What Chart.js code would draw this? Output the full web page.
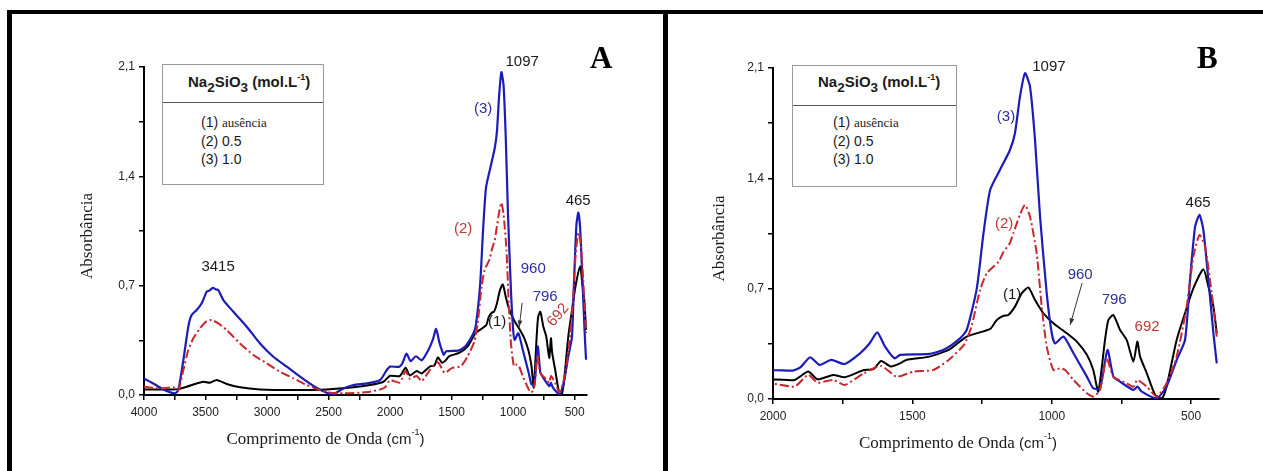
<!DOCTYPE html>
<html>
<head>
<meta charset="utf-8">
<script src="https://cdn.jsdelivr.net/npm/chart.js@4.4.1/dist/chart.umd.min.js"></script>
<style>
  body { margin: 0; background: #fff; width: 1263px; height: 471px; overflow: hidden; position: relative; font-family: "Liberation Sans", Arial, sans-serif; }
  .bar { position: absolute; background: #000; }
  .panel { position: absolute; top: 14px; height: 457px; }
  .letter { position: absolute; top: 42px; font: bold 31px/31px "Liberation Serif", serif; color: #000; }
  .key { position: absolute; border: 1px solid #9a9a9a; background: #fff; color: #1a1a1a; }
  .key .head { position: absolute; left: 0; top: 0; right: 0; border-bottom: 1px solid #555; }
  .key .ttl { position: absolute; font-weight: bold; font-size: 15px; line-height: 16px; white-space: nowrap; }
  .key .items { position: absolute; font-size: 14px; line-height: 18px; white-space: nowrap; }
  .key .serif { font-family: "Liberation Serif", serif; font-size: 13px; }
  sub { font-size: 0.9em; vertical-align: -0.35em; line-height: 0; }
  sup { font-size: 0.6em; vertical-align: 0.75em; line-height: 0; }
</style>
</head>
<body>
<div class="bar" style="left:7px;top:10px;width:1256px;height:4px"></div>
<div class="bar" style="left:7px;top:10px;width:5px;height:461px"></div>
<div class="bar" style="left:663px;top:10px;width:5px;height:461px"></div>

<div class="panel" style="left:12px;width:651px"><canvas id="chart-a"></canvas></div>
<div class="panel" style="left:668px;width:595px"><canvas id="chart-b"></canvas></div>

<div class="letter" style="left:590px">A</div>
<div class="letter" style="left:1197px">B</div>

<div class="key" style="left:162px;top:64px;width:160px;height:119px">
  <div class="head" style="height:37px"><span class="ttl" style="left:25px;top:9px">Na<sub>2</sub>SiO<sub>3</sub> (mol.L<sup>-1</sup>)</span></div>
  <div class="items" style="left:38px;top:48px">
    <div>(1) <span class="serif">ausência</span></div>
    <div>(2) 0.5</div>
    <div>(3) 1.0</div>
  </div>
</div>
<div class="key" style="left:792px;top:65px;width:163px;height:120px">
  <div class="head" style="height:39px"><span class="ttl" style="left:25px;top:8px">Na<sub>2</sub>SiO<sub>3</sub> (mol.L<sup>-1</sup>)</span></div>
  <div class="items" style="left:40px;top:47px">
    <div>(1) <span class="serif">ausência</span></div>
    <div>(2) 0.5</div>
    <div>(3) 1.0</div>
  </div>
</div>

<script>
// (1) ausencia
const waveBlack = [4000, 3870, 3735, 3653, 3572, 3518, 3464, 3409, 3328, 3220, 3057, 2786, 2515, 2299, 2163, 2054, 2000, 1922, 1874, 1840,
    1784, 1743, 1674, 1640, 1612, 1577, 1544, 1522, 1439, 1370, 1305, 1221, 1198, 1174, 1156, 1132, 1108, 1084, 1060, 1030,
    994, 946, 910, 874, 851, 833, 809, 797, 779, 755, 731, 707, 693, 683, 659, 629, 605, 588, 552, 522, 492, 456, 438, 420, 408];
const absBlack = [0.036, 0.036, 0.036, 0.053, 0.074, 0.085, 0.079, 0.096, 0.07, 0.049, 0.036, 0.032, 0.036, 0.049, 0.064, 0.085, 0.123, 0.121, 0.174, 0.125,
    0.153, 0.138, 0.184, 0.189, 0.241, 0.206, 0.226, 0.248, 0.269, 0.311, 0.396, 0.445, 0.5, 0.527, 0.533, 0.586, 0.67, 0.708, 0.628, 0.544,
    0.48, 0.417, 0.364, 0.28, 0.184, 0.047, 0.374, 0.5, 0.533, 0.438, 0.374, 0.237, 0.364, 0.269, 0.163, 0.025, 0.004, 0.08, 0.374, 0.544, 0.702, 0.823, 0.713, 0.586, 0.417];

// (2) 0.5
const waveRed = [4000, 3870, 3762, 3721, 3680, 3640, 3599, 3545, 3491, 3450, 3396, 3328, 3220, 3111, 3003, 2895, 2786, 2678, 2569, 2488,
    2380, 2244, 2163, 2081, 2040, 2000, 1922, 1874, 1840, 1784, 1743, 1674, 1612, 1557, 1495, 1425, 1370, 1315, 1288, 1257,
    1232, 1191, 1174, 1150, 1138, 1114, 1096, 1078, 1054, 1036, 1018, 994, 970, 952, 922, 874, 851, 827, 803, 779,
    731, 707, 693, 659, 623, 588, 552, 516, 492, 470, 450, 426, 408];
const absRed = [0.053, 0.042, 0.049, 0.032, 0.16, 0.288, 0.363, 0.427, 0.473, 0.48, 0.459, 0.416, 0.33, 0.256, 0.203, 0.149, 0.107, 0.064, 0.032, 0.015,
    0.011, 0.015, 0.021, 0.036, 0.05, 0.095, 0.079, 0.153, 0.104, 0.121, 0.089, 0.163, 0.21, 0.142, 0.174, 0.184, 0.248, 0.343, 0.46, 0.692,
    0.8, 0.87, 0.93, 0.99, 1.05, 1.17, 1.231, 1.157, 0.924, 0.586, 0.332, 0.184, 0.195, 0.184, 0.121, 0.036, 0.015, 0.057, 0.258, 0.142,
    0.1, 0.078, 0.121, 0.078, 0.015, 0.1, 0.269, 0.586, 0.903, 1.04, 0.967, 0.67, 0.396];

// (3) 1.0
const waveBlue = [4000, 3924, 3843, 3748, 3721, 3680, 3640, 3613, 3572, 3531, 3491, 3470, 3440, 3415, 3396, 3355, 3274, 3165, 3057, 2949,
    2840, 2732, 2623, 2515, 2461, 2380, 2299, 2190, 2081, 2027, 2000, 1929, 1902, 1867, 1833, 1791, 1743, 1688, 1653, 1626,
    1598, 1564, 1544, 1439, 1384, 1329, 1305, 1269, 1245, 1221, 1186, 1150, 1132, 1114, 1096, 1078, 1060, 1042, 1018, 1000,
    988, 958, 922, 874, 851, 827, 800, 779, 755, 707, 693, 677, 623, 588, 552, 522, 504, 486, 470, 456, 438, 420, 408];
const absBlue = [0.106, 0.074, 0.036, 0.011, 0.032, 0.224, 0.437, 0.512, 0.544, 0.587, 0.661, 0.668, 0.686, 0.676, 0.672, 0.608, 0.533, 0.437, 0.33, 0.245,
    0.181, 0.117, 0.058, 0.015, 0.006, 0.042, 0.064, 0.074, 0.096, 0.16, 0.182, 0.18, 0.2, 0.265, 0.216, 0.248, 0.222, 0.29, 0.354, 0.423,
    0.332, 0.258, 0.28, 0.286, 0.316, 0.385, 0.438, 0.7, 1.05, 1.326, 1.453, 1.58, 1.686, 1.918, 2.067, 1.982, 1.643, 1.157, 0.67, 0.417,
    0.353, 0.396, 0.29, 0.142, 0.068, 0.068, 0.311, 0.142, 0.11, 0.057, 0.078, 0.047, 0.004, 0.08, 0.247, 0.374, 0.755, 1.09, 1.168, 1.072, 0.755, 0.417, 0.226];

const ticksA = [4000, 3750, 3500, 3250, 3000, 2750, 2500, 2250, 2000, 1750, 1500, 1250, 1000, 750, 500];
const ticksB = [2000, 1750, 1500, 1250, 1000, 750, 500];
const ticksY = [0, 0.35, 0.7, 1.05, 1.4, 1.75, 2.1];

const BLACK = '#000000', RED = '#c8282c', BLUE = '#1c1cb8';

// peak labels, placed in data units (wavenumber, absorbance)
const notesA = [
    { text: '1097', w: 927, a: 2.13, color: '#1a1a1a' },
    { text: '(3)', w: 1244, a: 1.83, color: '#2e2ea0' },
    { text: '(2)', w: 1407, a: 1.063, color: '#c03a3a' },
    { text: '465', w: 472, a: 1.242, color: '#1a1a1a' },
    { text: '3415', w: 3398, a: 0.82, color: '#1a1a1a' },
    { text: '960', w: 837, a: 0.807, color: '#2e2ea0' },
    { text: '796', w: 740, a: 0.627, color: '#2e2ea0' },
    { text: '692', w: 634, a: 0.512, color: '#c03a3a', rot: -50 },
    { text: '(1)', w: 1130, a: 0.467, color: '#1a1a1a' }
];
const notesB = [
    { text: '1097', w: 1010, a: 2.107, color: '#1a1a1a' },
    { text: '(3)', w: 1164, a: 1.789, color: '#2e2ea0' },
    { text: '(2)', w: 1171, a: 1.11, color: '#c03a3a' },
    { text: '(1)', w: 1142, a: 0.66, color: '#1a1a1a' },
    { text: '960', w: 898, a: 0.787, color: '#2e2ea0' },
    { text: '796', w: 776, a: 0.628, color: '#2e2ea0' },
    { text: '692', w: 658, a: 0.457, color: '#c03a3a' },
    { text: '465', w: 475, a: 1.244, color: '#1a1a1a' }
];

function points(waves, values) {
    return waves.map((w, i) => ({ x: w, y: values[i] }));
}

const spectrumNotes = {
    id: 'notes',
    afterDatasetsDraw(chart, args, opts) {
        const { ctx, chartArea: area, scales: { x, y } } = chart;
        ctx.save();
        ctx.textAlign = 'center';
        ctx.textBaseline = 'middle';
        opts.labels.forEach(n => {
            ctx.save();
            ctx.translate(x.getPixelForValue(n.w), y.getPixelForValue(n.a));
            if (n.rot) ctx.rotate(n.rot * Math.PI / 180);
            ctx.fillStyle = n.color;
            ctx.font = '15px "Liberation Sans", Arial';
            ctx.fillText(n.text, 0, 0);
            ctx.restore();
        });

        // arrow towards the 960 shoulder
        const a = opts.arrow;
        const x1 = x.getPixelForValue(a[0]), y1 = y.getPixelForValue(a[1]);
        const x2 = x.getPixelForValue(a[2]), y2 = y.getPixelForValue(a[3]);
        const ang = Math.atan2(y2 - y1, x2 - x1);
        ctx.strokeStyle = '#333';
        ctx.fillStyle = '#333';
        ctx.lineWidth = 1;
        ctx.beginPath();
        ctx.moveTo(x1, y1);
        ctx.lineTo(x2, y2);
        ctx.stroke();
        ctx.beginPath();
        ctx.moveTo(x2, y2);
        ctx.lineTo(x2 - 7 * Math.cos(ang - 0.35), y2 - 7 * Math.sin(ang - 0.35));
        ctx.lineTo(x2 - 7 * Math.cos(ang + 0.35), y2 - 7 * Math.sin(ang + 0.35));
        ctx.closePath();
        ctx.fill();

        // axis titles
        ctx.fillStyle = '#1a1a1a';
        ctx.save();
        ctx.translate(area.left - opts.yGap, (area.top + area.bottom) / 2 + 5);
        ctx.rotate(-Math.PI / 2);
        ctx.font = '17px "Liberation Serif", serif';
        ctx.fillText('Absorbância', 0, 0);
        ctx.restore();

        const parts = [
            { t: 'Comprimento de Onda ', f: '17px "Liberation Serif", serif', dy: 0 },
            { t: '(cm', f: '15px "Liberation Sans", Arial', dy: 0 },
            { t: '-1', f: '9px "Liberation Sans", Arial', dy: -7 },
            { t: ')', f: '15px "Liberation Sans", Arial', dy: 0 }
        ];
        let total = 0;
        parts.forEach(p => { ctx.font = p.f; p.w = ctx.measureText(p.t).width; total += p.w; });
        let cx = (area.left + area.right) / 2 + opts.xShift - total / 2;
        const ty = area.bottom + 45;
        ctx.textAlign = 'left';
        parts.forEach(p => { ctx.font = p.f; ctx.fillText(p.t, cx, ty + p.dy); cx += p.w; });
        ctx.restore();
    }
};

function makeChart(canvas, xmin, xTicks, notes, arrow, pad, xShift, yGap) {
    const tickFont = { family: '"Liberation Sans", Arial', size: 12 };
    return new Chart(canvas.getContext('2d'), {
        type: 'line',
        data: {
            datasets: [
                { label: '(2) 0.5', data: points(waveRed, absRed), borderColor: RED, borderWidth: 2, borderDash: [9, 3, 2, 3] },
                { label: '(3) 1.0', data: points(waveBlue, absBlue), borderColor: BLUE, borderWidth: 2.2 },
                { label: '(1) ausência', data: points(waveBlack, absBlack), borderColor: BLACK, borderWidth: 2 }
            ]
        },
        options: {
            responsive: false,
            animation: false,
            elements: { point: { radius: 0 }, line: { tension: 0.2, fill: false } },
            layout: { padding: pad },
            plugins: {
                legend: { display: false },
                tooltip: { enabled: false },
                notes: { labels: notes, arrow: arrow, xShift: xShift, yGap: yGap }
            },
            scales: {
                x: {
                    type: 'linear',
                    reverse: true,
                    min: xmin,
                    max: xTicks[0],
                    afterBuildTicks: s => { s.ticks = xTicks.map(v => ({ value: v })); },
                    afterFit: s => { s.height = 30; },
                    ticks: {
                        autoSkip: false, maxRotation: 0, padding: 5, color: '#222', font: tickFont,
                        callback: v => (v % 500 === 0 ? String(v) : '')
                    },
                    grid: { drawOnChartArea: false, drawTicks: true, tickLength: 5, color: '#000', lineWidth: 1.5 },
                    border: { display: true, color: '#000', width: 2 }
                },
                y: {
                    type: 'linear',
                    min: 0,
                    max: 2.1,
                    afterBuildTicks: s => { s.ticks = ticksY.map(v => ({ value: v })); },
                    afterFit: s => { s.width = 40; },
                    ticks: {
                        autoSkip: false, padding: 4, color: '#222', font: tickFont,
                        callback: v => (Math.round(v * 100) % 70 === 0 ? v.toFixed(1).replace('.', ',') : '')
                    },
                    grid: { drawOnChartArea: false, drawTicks: true, tickLength: 5, color: '#000', lineWidth: 1.5 },
                    border: { display: true, color: '#000', width: 2 }
                }
            }
        },
        plugins: [spectrumNotes]
    });
}

const canvasA = document.querySelector('#chart-a');
canvasA.width = 651; canvasA.height = 457;
const canvasB = document.querySelector('#chart-b');
canvasB.width = 595; canvasB.height = 457;

makeChart(canvasA, 400, ticksA, notesA, [927, 0.59, 951, 0.435],
    { left: 92, right: 76, top: 53, bottom: 46 }, -40, 56);
makeChart(canvasB, 400, ticksB, notesB, [891, 0.736, 934, 0.47],
    { left: 65, right: 44, top: 54, bottom: 42 }, -38, 53);
</script>
</body>
</html>
